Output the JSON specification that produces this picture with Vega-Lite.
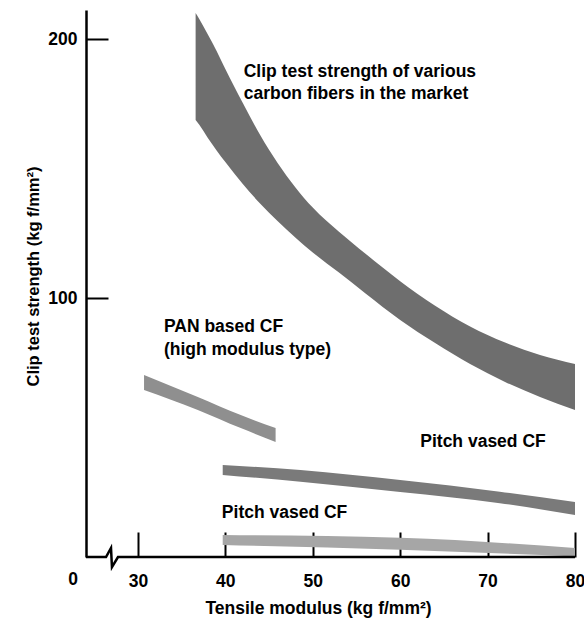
{
  "$schema": "https://vega.github.io/schema/vega-lite/v6.json",
  "width": 489,
  "height": 547,
  "autosize": {"type": "none"},
  "padding": {"left": 86, "top": 10, "right": 9, "bottom": 71},
  "background": "white",
  "config": {
    "view": {"stroke": null},
    "font": "Liberation Sans",
    "axis": {"labelColor": "black", "titleColor": "black", "tickColor": "black", "domainColor": "black", "grid": false}
  },
  "datasets": {
    "bands": [
      {"series": "market", "x": 36.6, "lo": 168.7, "hi": 210.0},
      {"series": "market", "x": 37, "lo": 167.0, "hi": 207.8},
      {"series": "market", "x": 38, "lo": 161.8, "hi": 201.7},
      {"series": "market", "x": 39, "lo": 157.0, "hi": 195.4},
      {"series": "market", "x": 40, "lo": 152.5, "hi": 188.4},
      {"series": "market", "x": 42, "lo": 144.0, "hi": 175.3},
      {"series": "market", "x": 44, "lo": 136.4, "hi": 162.8},
      {"series": "market", "x": 46, "lo": 129.6, "hi": 152.0},
      {"series": "market", "x": 48, "lo": 123.4, "hi": 142.8},
      {"series": "market", "x": 50, "lo": 117.6, "hi": 134.9},
      {"series": "market", "x": 53, "lo": 109.8, "hi": 125.6},
      {"series": "market", "x": 56, "lo": 101.8, "hi": 117.2},
      {"series": "market", "x": 60, "lo": 91.5, "hi": 106.5},
      {"series": "market", "x": 64, "lo": 82.6, "hi": 97.0},
      {"series": "market", "x": 68, "lo": 74.5, "hi": 89.0},
      {"series": "market", "x": 72, "lo": 67.6, "hi": 82.8},
      {"series": "market", "x": 76, "lo": 61.8, "hi": 78.0},
      {"series": "market", "x": 80, "lo": 56.8, "hi": 74.5},
      {"series": "pan", "x": 30.7, "lo": 64.5, "hi": 70.3},
      {"series": "pan", "x": 36.85, "lo": 56.8, "hi": 61.8},
      {"series": "pan", "x": 41.76, "lo": 49.8, "hi": 54.8},
      {"series": "pan", "x": 45.75, "lo": 44.4, "hi": 49.8},
      {"series": "pitch1", "x": 39.7, "lo": 31.7, "hi": 35.5},
      {"series": "pitch1", "x": 48.6, "lo": 29.1, "hi": 33.6},
      {"series": "pitch1", "x": 60, "lo": 25.1, "hi": 29.7},
      {"series": "pitch1", "x": 71.4, "lo": 20.8, "hi": 25.2},
      {"series": "pitch1", "x": 80, "lo": 16.2, "hi": 21.2},
      {"series": "pitch2", "x": 39.7, "lo": 4.6, "hi": 8.5},
      {"series": "pitch2", "x": 60, "lo": 2.8, "hi": 7.4},
      {"series": "pitch2", "x": 80, "lo": 0.2, "hi": 3.5}
    ],
    "baseline": [
      {"x": 24.06, "y": 0},
      {"x": 26.35, "y": 0},
      {"x": 26.92, "y": 3.5},
      {"x": 27.03, "y": -3.9},
      {"x": 27.72, "y": 0},
      {"x": 80, "y": 0}
    ],
    "notes": [
      {"x": 42.1, "y": 187.3, "t": "Clip test strength of various"},
      {"x": 42.1, "y": 178.6, "t": "carbon fibers in the market"},
      {"x": 32.97, "y": 88.8, "t": "PAN based CF"},
      {"x": 32.97, "y": 79.9, "t": "(high modulus type)"},
      {"x": 62.3, "y": 44.4, "t": "Pitch vased CF"},
      {"x": 39.6, "y": 17.0, "t": "Pitch vased CF"}
    ],
    "zero": [{"x": 22.58, "y": 0, "t": "0"}]
  },
  "layer": [
    {
      "data": {"name": "bands"},
      "mark": {"type": "area", "interpolate": "monotone"},
      "encoding": {
        "x": {
          "field": "x", "type": "quantitative",
          "scale": {"domain": [24.06, 80], "nice": false, "zero": false},
          "axis": {
            "values": [30, 40, 50, 60, 70, 80],
            "domain": false,
            "tickSize": -25,
            "tickWidth": 2,
            "labelFontSize": 17.5,
            "labelFontWeight": "bold",
            "labelPadding": 40,
            "labelFlush": false,
            "title": "Tensile modulus (kg f/mm²)",
            "titleFontSize": 17.5,
            "titleFontWeight": "bold",
            "titleX": 232,
            "titleY": 51,
            "titleAlign": "center",
            "titleBaseline": "middle"
          }
        },
        "y": {
          "field": "lo", "type": "quantitative",
          "scale": {"domain": [0, 211.2], "nice": false, "zero": false},
          "axis": {
            "values": [100, 200],
            "domain": true,
            "domainWidth": 2.5,
            "tickSize": -22,
            "tickWidth": 2,
            "labelFontSize": 17.5,
            "labelFontWeight": "bold",
            "labelPadding": 31,
            "labelFlush": false,
            "title": "Clip test strength (kg f/mm²)",
            "titleFontSize": 16.5,
            "titleFontWeight": "bold",
            "titleX": -48,
            "titleY": 266,
            "titleAngle": -90,
            "titleAlign": "center",
            "titleBaseline": "alphabetic"
          }
        },
        "y2": {"field": "hi"},
        "detail": {"field": "series"},
        "color": {
          "field": "series", "type": "nominal", "legend": null,
          "scale": {"domain": ["market", "pan", "pitch1", "pitch2"], "range": ["#6e6e6e", "#8f8f8f", "#7a7a7a", "#a6a6a6"]}
        }
      }
    },
    {
      "data": {"name": "baseline"},
      "mark": {"type": "line", "color": "black", "strokeWidth": 2.5},
      "encoding": {
        "x": {"field": "x", "type": "quantitative"},
        "y": {"field": "y", "type": "quantitative"}
      }
    },
    {
      "data": {"name": "notes"},
      "mark": {"type": "text", "align": "left", "baseline": "middle", "fontSize": 17.5, "fontWeight": "bold", "color": "black"},
      "encoding": {
        "x": {"field": "x", "type": "quantitative"},
        "y": {"field": "y", "type": "quantitative"},
        "text": {"field": "t"}
      }
    },
    {
      "data": {"name": "zero"},
      "mark": {"type": "text", "align": "center", "baseline": "middle", "dy": 23, "fontSize": 17.5, "fontWeight": "bold", "color": "black"},
      "encoding": {
        "x": {"field": "x", "type": "quantitative"},
        "y": {"field": "y", "type": "quantitative"},
        "text": {"field": "t"}
      }
    }
  ]
}
